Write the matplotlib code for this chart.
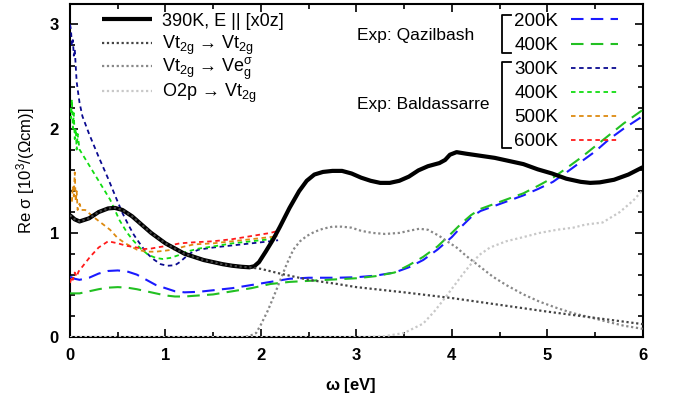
import matplotlib
matplotlib.use("Agg")
import matplotlib.pyplot as plt

plt.rcParams["font.family"] = ["Liberation Sans", "DejaVu Sans"]
plt.rcParams["mathtext.fontset"] = "custom"
plt.rcParams["mathtext.rm"] = "Liberation Sans"
plt.rcParams["mathtext.it"] = "Liberation Sans"
plt.rcParams["mathtext.bf"] = "Liberation Sans:bold"

# theory, 390K E || [x0z]
x_tot = [0.0, 0.05, 0.1, 0.2, 0.3, 0.4, 0.47, 0.55, 0.65, 0.75, 0.85, 1.0, 1.1, 1.2, 1.3,
         1.4, 1.5, 1.6, 1.7, 1.8, 1.88, 1.93, 1.98, 2.05, 2.13, 2.2, 2.3, 2.4, 2.48, 2.56,
         2.65, 2.75, 2.85, 2.95, 3.05, 3.15, 3.25, 3.35, 3.45, 3.55, 3.65, 3.75, 3.87, 3.93,
         3.98, 4.05, 4.15, 4.3, 4.45, 4.6, 4.75, 4.9, 5.05, 5.2, 5.35, 5.45, 5.55, 5.7, 5.85, 6.0]
y_tot = [1.17, 1.13, 1.11, 1.14, 1.2, 1.235, 1.24, 1.22, 1.16, 1.08, 1.0, 0.9, 0.85, 0.8, 0.77,
         0.74, 0.72, 0.7, 0.685, 0.675, 0.67, 0.68, 0.72, 0.82, 0.94, 1.06, 1.24, 1.4, 1.5, 1.56,
         1.585, 1.595, 1.595, 1.57, 1.53, 1.5, 1.48, 1.48, 1.5, 1.54, 1.6, 1.64, 1.67, 1.7,
         1.75, 1.775, 1.76, 1.74, 1.72, 1.69, 1.66, 1.61, 1.57, 1.52, 1.49, 1.48, 1.485, 1.51, 1.56, 1.63]

# Vt2g -> Vt2g
x_tt = [0.0, 0.05, 0.1, 0.2, 0.3, 0.4, 0.47, 0.55, 0.65, 0.75, 0.85, 1.0, 1.1, 1.2, 1.3,
        1.4, 1.5, 1.6, 1.7, 1.8, 1.88, 2.0, 2.2, 2.5, 2.8, 3.0, 3.5, 4.0, 4.5, 5.0, 5.5, 6.0]
y_tt = [1.17, 1.13, 1.11, 1.14, 1.2, 1.235, 1.24, 1.22, 1.16, 1.08, 1.0, 0.9, 0.85, 0.8, 0.77,
        0.74, 0.72, 0.7, 0.685, 0.675, 0.67, 0.655, 0.61, 0.55, 0.51, 0.48, 0.43, 0.375, 0.31, 0.245, 0.185, 0.125]

# Vt2g -> Veg sigma
x_te = [0.0, 1.8, 1.88, 1.95, 2.0, 2.07, 2.13, 2.2, 2.27, 2.34, 2.41, 2.48, 2.56, 2.65, 2.75,
        2.85, 2.95, 3.05, 3.17, 3.3, 3.45, 3.55, 3.66, 3.75, 3.87, 3.95, 4.05, 4.15, 4.29, 4.43,
        4.57, 4.75, 4.92, 5.1, 5.27, 5.45, 5.62, 5.8, 6.0]
y_te = [0.0, 0.0, 0.01, 0.04, 0.12, 0.25, 0.38, 0.54, 0.7, 0.84, 0.92, 0.97, 1.01, 1.04, 1.06,
        1.06, 1.05, 1.02, 1.0, 0.99, 1.0, 1.02, 1.04, 1.03, 0.97, 0.92, 0.86, 0.78, 0.68, 0.58,
        0.5, 0.41, 0.34, 0.28, 0.23, 0.19, 0.15, 0.11, 0.08]

# O2p -> Vt2g
x_op = [0.0, 3.1, 3.3, 3.5, 3.7, 3.82, 3.94, 4.03, 4.12, 4.2, 4.29, 4.4, 4.57, 4.75, 4.92,
        5.1, 5.27, 5.4, 5.58, 5.76, 5.9, 6.0]
y_op = [0.0, 0.0, 0.01, 0.04, 0.13, 0.25, 0.39, 0.5, 0.61, 0.7, 0.79, 0.86, 0.92, 0.96, 1.0,
        1.03, 1.05, 1.08, 1.1, 1.2, 1.31, 1.41]

# Exp: Qazilbash
x_q = [0.0, 0.05, 0.1, 0.2, 0.3, 0.4, 0.5, 0.6, 0.7, 0.8, 0.9, 1.0, 1.1, 1.2, 1.35, 1.5,
       1.7, 1.9, 2.1, 2.3, 2.5, 2.8, 3.0, 3.2, 3.4, 3.55, 3.7, 3.85, 4.0, 4.1, 4.2, 4.3,
       4.45, 4.6, 4.75, 4.9, 5.06, 5.2, 5.35, 5.5, 5.65, 5.8, 6.0]
y_q200 = [0.58, 0.56, 0.55, 0.57, 0.61, 0.635, 0.64, 0.63, 0.6, 0.55, 0.5, 0.47, 0.44, 0.43, 0.435, 0.45,
          0.47, 0.5, 0.53, 0.56, 0.57, 0.57, 0.575, 0.59, 0.62, 0.67, 0.74, 0.84, 0.96, 1.06, 1.15, 1.21,
          1.26, 1.31, 1.36, 1.42, 1.49, 1.58, 1.68, 1.78, 1.9, 2.0, 2.12]
y_q400 = [0.42, 0.42, 0.42, 0.44, 0.46, 0.475, 0.48, 0.475, 0.46, 0.44, 0.42, 0.4, 0.39, 0.39, 0.4, 0.41,
          0.44, 0.47, 0.51, 0.53, 0.54, 0.555, 0.565, 0.585, 0.62, 0.69, 0.77, 0.87, 1.0, 1.09, 1.17, 1.23,
          1.28, 1.33, 1.38, 1.45, 1.53, 1.62, 1.72, 1.83, 1.94, 2.05, 2.18]

# Exp: Baldassarre
x_b300 = [0.0, 0.01, 0.02, 0.03, 0.04, 0.05, 0.06, 0.07, 0.08, 0.1, 0.13, 0.2, 0.3, 0.4, 0.49,
          0.55, 0.61, 0.67, 0.73, 0.8, 0.87, 0.95, 1.02, 1.1, 1.15, 1.2, 1.27, 1.35, 1.5, 1.7, 1.9, 2.1, 2.18]
y_b300 = [3.0, 2.95, 2.8, 2.85, 2.7, 2.76, 2.6, 2.45, 2.38, 2.25, 2.12, 1.95, 1.73, 1.52, 1.32,
          1.19, 1.08, 0.98, 0.9, 0.81, 0.75, 0.7, 0.685, 0.69, 0.72, 0.76, 0.81, 0.84, 0.86, 0.88, 0.9, 0.92, 0.93]
x_b400 = [0.0, 0.01, 0.02, 0.03, 0.04, 0.05, 0.06, 0.07, 0.08, 0.1, 0.2, 0.3, 0.42, 0.52, 0.6,
          0.66, 0.74, 0.82, 0.9, 0.97, 1.05, 1.15, 1.22, 1.35, 1.5, 1.7, 1.9, 2.1, 2.18]
y_b400 = [2.2, 2.1, 2.28, 2.0, 2.15, 1.9, 2.0, 1.8, 1.95, 1.8, 1.65, 1.5, 1.32, 1.12, 1.0,
          0.93, 0.85, 0.79, 0.76, 0.75, 0.76, 0.79, 0.82, 0.85, 0.87, 0.9, 0.92, 0.94, 0.95]
x_b500 = [0.02, 0.03, 0.04, 0.05, 0.06, 0.07, 0.08, 0.1, 0.12, 0.16, 0.25, 0.35, 0.42, 0.5, 0.58,
          0.7, 0.8, 0.9, 1.0, 1.08, 1.2, 1.3, 1.5, 1.7, 1.9, 2.1, 2.18]
y_b500 = [1.3, 1.45, 1.35, 1.58, 1.3, 1.4, 1.22, 1.28, 1.22, 1.22, 1.15, 1.08, 1.03, 0.95, 0.9,
          0.84, 0.82, 0.82, 0.83, 0.84, 0.87, 0.89, 0.9, 0.92, 0.94, 0.96, 0.97]
x_b600 = [0.0, 0.02, 0.03, 0.05, 0.07, 0.09, 0.15, 0.21, 0.3, 0.4, 0.5, 0.6, 0.7, 0.77, 0.85,
          0.94, 1.05, 1.15, 1.3, 1.5, 1.7, 1.9, 2.1, 2.18]
y_b600 = [0.52, 0.58, 0.55, 0.62, 0.58, 0.63, 0.7, 0.77, 0.86, 0.92, 0.9, 0.875, 0.86, 0.845, 0.85,
          0.865, 0.88, 0.9, 0.91, 0.92, 0.94, 0.97, 1.0, 1.02]

theory_labels = ["390K, E || [x0z]",
                 r"Vt$_{2g}$ → Vt$_{2g}$",
                 r"Vt$_{2g}$ → Ve$_g^\sigma$",
                 r"O2p → Vt$_{2g}$"]
exp_labels = ["200K", "400K", "300K", "400K", "500K", "600K"]

fig = plt.figure(figsize=(6.73, 3.99), dpi=100)
ax = fig.add_axes([0.104, 0.155, 0.851, 0.836])

long_dash = (0, (6, 3.5))
short_dash = (0, (2.5, 2))
dots = (0, (1, 1.2))

h_tot, = ax.plot(x_tot, y_tot, color="black", lw=3.0, solid_capstyle="butt", zorder=5)
h_tt, = ax.plot(x_tt, y_tt, color="#444444", lw=1.6, ls=dots, zorder=6)
h_te, = ax.plot(x_te, y_te, color="#888888", lw=1.6, ls=dots, zorder=4)
h_op, = ax.plot(x_op, y_op, color="#c8c8c8", lw=1.6, ls=dots, zorder=4)

h_q200, = ax.plot(x_q, y_q200, color="#1a1aff", lw=1.5, ls=long_dash, zorder=3)
h_q400, = ax.plot(x_q, y_q400, color="#22c022", lw=1.5, ls=long_dash, zorder=3)
h_b300, = ax.plot(x_b300, y_b300, color="#0a0a90", lw=1.3, ls=short_dash, zorder=3)
h_b400, = ax.plot(x_b400, y_b400, color="#11dd11", lw=1.3, ls=short_dash, zorder=3)
h_b500, = ax.plot(x_b500, y_b500, color="#dd8a10", lw=1.3, ls=short_dash, zorder=3)
h_b600, = ax.plot(x_b600, y_b600, color="#ff1a1a", lw=1.3, ls=short_dash, zorder=3)

ax.set_xlim(0, 6)
ax.set_ylim(0, 3.2)
ax.set_xticks([0, 1, 2, 3, 4, 5, 6])
ax.set_xticks([0.5, 1.5, 2.5, 3.5, 4.5, 5.5], minor=True)
ax.set_yticks([0, 1, 2, 3])
ax.set_yticks([0.2, 0.4, 0.6, 0.8, 1.2, 1.4, 1.6, 1.8, 2.2, 2.4, 2.6, 2.8, 3.0], minor=True)
ax.tick_params(which="both", direction="in", top=True, right=True, width=1.2)
ax.tick_params(which="major", length=6, labelsize=12, pad=8)
ax.tick_params(which="minor", length=3.5)
for lab in ax.get_xticklabels() + ax.get_yticklabels():
    lab.set_fontweight("bold")
for s in ax.spines.values():
    s.set_linewidth(1.5)

ax.set_xlabel(r"$\mathbf{\omega}$ [eV]", fontsize=12, fontweight="bold")
ax.xaxis.set_label_coords(0.49, -0.115)
ax.set_ylabel(r"Re $\sigma$ [10$^3$/($\Omega$cm)]", fontsize=12)
ax.yaxis.set_label_coords(-0.058, 0.5)

# theory legend, one row each so the rows stay evenly spaced
rows_y = [0.947, 0.875, 0.803, 0.731]
for h, lab, yy in zip([h_tot, h_tt, h_te, h_op], theory_labels, rows_y):
    lg = ax.legend([h], [lab], loc="center left", bbox_to_anchor=(0.056, yy), frameon=False,
                   fontsize=13, handlelength=2.75, handletextpad=0.55,
                   borderaxespad=0, borderpad=0)
    ax.add_artist(lg)

# experiment legend, labels first
ax.legend([h_q200, h_q400, h_b300, h_b400, h_b500, h_b600], exp_labels,
          loc="upper right", bbox_to_anchor=(0.956, 0.972), frameon=False, markerfirst=False,
          fontsize=13.5, handlelength=2.5, handletextpad=0.65, labelspacing=0.37,
          borderaxespad=0, borderpad=0)

ax.text(0.502, 0.905, "Exp: Qazilbash", transform=ax.transAxes, fontsize=12.5, va="center")
ax.text(0.502, 0.697, "Exp: Baldassarre", transform=ax.transAxes, fontsize=12.5, va="center")

# brackets grouping the two experiments
bx0, bx1 = 0.754, 0.77
for y0, y1 in [(0.967, 0.853), (0.826, 0.568)]:
    ax.plot([bx1, bx0, bx0, bx1], [y0, y0, y1, y1], color="black", lw=1.3,
            transform=ax.transAxes, clip_on=False)

fig.savefig("out.png", dpi=100)
